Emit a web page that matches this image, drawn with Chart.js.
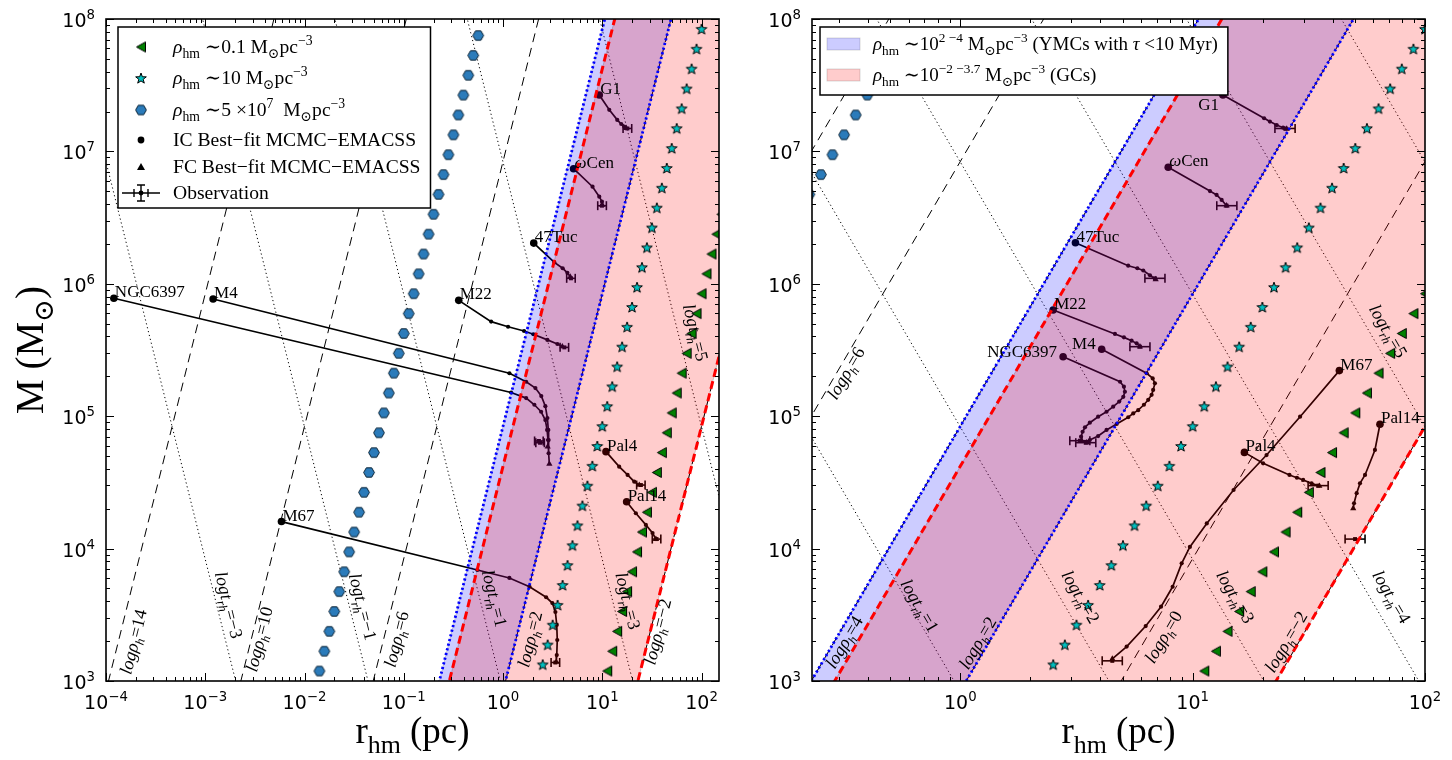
<!DOCTYPE html>
<html lang="en">
<head>
<meta charset="UTF-8">
<title>Cluster mass vs half-mass radius</title>
<script src="https://cdn.jsdelivr.net/npm/chart.js"></script>
<style>
  body { margin: 0; background: #fff; }
  #wrap { position: relative; width: 1452px; height: 760px; }
  canvas { position: absolute; top: 0; }
  #left { left: 0; }
  #right { left: 726px; }
</style>
</head>
<body>
<div id="wrap">
  <canvas id="left" width="726" height="760"></canvas>
  <canvas id="right" width="726" height="760"></canvas>
</div>
<script>
// ---- constant-density model sequences (r in pc, M in Msun) ----
const hexR = [0.01413,0.01585,0.01778,0.01995,0.02239,0.02512,0.02818,0.03162,0.03548,0.03981,0.04467,0.05012,0.05623,0.0631,0.07079,0.07943,0.08913,0.1,0.1122,0.1259,0.1413,0.1585,0.1778,0.1995,0.2239,0.2512,0.2818,0.3162,0.3548,0.3981,0.4467,0.5012,0.5623];
const hexM = [1189,1679,2371,3350,4732,6683,9441,13335,18836,26607,37584,53088,74989,1.059e5,1.496e5,2.113e5,2.985e5,4.217e5,5.957e5,8.414e5,1.189e6,1.679e6,2.371e6,3.35e6,4.732e6,6.683e6,9.441e6,1.334e7,1.884e7,2.661e7,3.758e7,5.309e7,7.499e7];
const starR = [2.512,2.818,3.162,3.548,3.981,4.467,5.012,5.623,6.31,7.079,7.943,8.913,10,11.22,12.59,14.13,15.85,17.78,19.95,22.39,25.12,28.18,31.62,35.48,39.81,44.67,50.12,56.23,63.1,70.79,79.43,89.13,100];
const starM = [1334,1884,2661,3758,5309,7499,10593,14962,21135,29854,42170,59566,84140,1.189e5,1.679e5,2.371e5,3.35e5,4.732e5,6.683e5,9.441e5,1.334e6,1.884e6,2.661e6,3.758e6,5.309e6,7.499e6,1.059e7,1.496e7,2.113e7,2.985e7,4.217e7,5.957e7,8.414e7];
const triR = [11.22,12.59,14.13,15.85,17.78,19.95,22.39,25.12,28.18,31.62,35.48,39.81,44.67,50.12,56.23,63.1,70.79,79.43,89.13,100,112.2,125.9,141.3,158.5];
const triM = [1189,1679,2371,3350,4732,6683,9441,13335,18836,26607,37584,53088,74989,1.059e5,1.496e5,2.113e5,2.985e5,4.217e5,5.957e5,8.414e5,1.189e6,1.679e6,2.371e6,3.35e6];

// ---- reference lines: r at M = refM[0] and refM[1] ----
const refM = [1e2, 1e9];
const rhoEnds = { '14': [4.92e-5, 0.0106], '10': [1.06e-3, 0.2285], '8': [4.92e-3, 1.061], '6': [0.02285, 4.92],
  '4': [0.106, 22.85], '3.7': [0.1337, 28.77], '2': [0.492, 106.1], '0': [2.285, 492], '-2': [10.61, 2285] };
const tEnds = { '-3': [4.36e-3, 2.03e-5], '-1': [0.094, 4.36e-4], '1': [2.026, 9.4e-3], '2': [9.4, 0.0436],
  '3': [43.6, 0.2026], '4': [202.6, 0.9404], '5': [940.4, 4.365], '6': [4365, 20.26] };

const clusterNames = ['G1', 'ωCen', '47Tuc', 'M22', 'NGC6397', 'M4', 'M67', 'Pal4', 'Pal14'];

// ---- left panel: evolution tracks [r, M] and observations [r, rLow, rHigh, M] ----
const tracksL = [
  [[9.33,2.67e7],[11.76,2.06e7],[14.16,1.73e7],[15.53,1.61e7],[16.63,1.54e7],[17.42,1.5e7]],
  [[5.14,7.4e6],[7.98,5.41e6],[9.33,4.55e6],[9.93,4.17e6],[10.0,3.94e6]],
  [[2.04,2.03e6],[3.29,1.45e6],[3.99,1.31e6],[4.45,1.21e6],[4.76,1.13e6]],
  [[0.358,7.5e5],[0.759,5.18e5],[1.125,4.74e5],[1.63,4.4e5],[2.02,4.16e5],[2.8,3.77e5],[3.53,3.51e5],[3.96,3.36e5]],
  [[1.2e-4,7.78e5],[1.206,1.51e5],[1.71,1.37e5],[2.07,1.22e5],[2.42,1.08e5],[2.67,9.35e4],[2.78,7.87e4],[2.84,6.61e4],[2.88,5.25e4],[2.93,4.36e4]],
  [[1.2e-3,7.68e5],[1.16,2.11e5],[1.71,1.82e5],[2.12,1.63e5],[2.43,1.42e5],[2.67,1.19e5],[2.8,9.69e4],[2.86,7.87e4],[2.88,6.61e4],[2.82,5.89e4]],
  [[5.86e-3,1.6e4],[0.552,6.89e3],[1.16,6.0e3],[1.85,5.15e3],[2.72,4.29e3],[3.14,3.88e3],[3.37,3.32e3],[3.48,2.65e3],[3.52,2.04e3],[3.48,1.57e3],[3.44,1.39e3]],
  [[10.9,5.4e4],[14.8,4.16e4],[18.0,3.6e4],[21.0,3.2e4],[23.6,3.02e4]],
  [[17.6,2.26e4],[21.8,1.85e4],[27.5,1.51e4],[32.1,1.31e4],[34.7,1.18e4]]
];
const obsL = [
  [17.9,16.2,19.8,1.49e7],[9.93,9.0,11.0,3.89e6],[4.84,4.38,5.34,1.1e6],[4.15,3.76,4.58,3.31e5],
  [2.30,2.08,2.54,6.5e4],[2.36,2.14,2.61,6.3e4],[3.37,3.05,3.72,1.38e3],[24.5,22.2,27.0,3.02e4],[35.2,31.9,38.9,1.18e4]
];

// ---- right panel ----
const tracksR = [
  [[13.5,2.67e7],[20.3,1.78e7],[21.5,1.68e7],[23.0,1.58e7],[24.5,1.51e7],[25.4,1.48e7]],
  [[7.85,7.59e6],[11.87,5.02e6],[12.68,4.69e6],[13.33,4.3e6],[14.0,3.89e6]],
  [[3.13,2.04e6],[5.28,1.37e6],[5.78,1.31e6],[6.13,1.26e6],[6.55,1.16e6],[6.93,1.08e6]],
  [[2.51,6.34e5],[4.63,4.18e5],[5.06,3.94e5],[5.46,3.72e5],[5.74,3.55e5],[5.93,3.35e5]],
  [[2.77,2.81e5],[4.87,1.82e5],[5.06,1.67e5],[5.11,1.53e5],[5.03,1.4e5],[4.83,1.29e5],[4.55,1.18e5],[4.26,1.08e5],[3.92,9.91e4],[3.61,8.93e4],[3.44,8.24e4],[3.36,7.63e4],[3.31,7.0e4],[3.33,6.53e4]],
  [[4.06,3.2e5],[6.34,2.11e5],[6.73,1.93e5],[6.88,1.77e5],[6.76,1.58e5],[6.66,1.45e5],[6.44,1.33e5],[6.17,1.22e5],[5.83,1.11e5],[5.55,1.05e5],[5.28,9.82e4],[4.71,8.73e4],[4.26,7.87e4],[3.92,7.08e4],[3.61,6.61e4],[3.5,6.31e4]],
  [[42.8,2.21e5],[29.0,9.91e4],[20.8,5.09e4],[15.0,2.77e4],[11.5,1.55e4],[9.73,1.03e4],[8.97,7.74e3],[8.2,5.15e3],[7.31,3.64e3],[6.28,2.6e3],[5.2,1.82e3],[4.51,1.47e3]],
  [[16.7,5.33e4],[20.1,4.41e4],[26.1,3.6e4],[28.1,3.43e4],[29.9,3.3e4],[32.5,3.11e4],[35.1,2.97e4]],
  [[64.0,8.69e4],[60.9,5.56e4],[55.2,3.6e4],[52.5,3.11e4],[50.8,2.62e4],[49.5,2.2e4],[49.1,2.01e4]]
];
const obsR = [
  [25.0,22.6,27.6,1.49e7],[14.0,12.7,15.5,3.89e6],[6.88,6.23,7.6,1.1e6],[5.93,5.37,6.55,3.35e5],
  [3.27,2.96,3.61,6.53e4],[3.47,3.14,3.83,6.31e4],[4.51,4.08,4.98,1.42e3],[34.7,31.4,38.3,2.99e4],[50.0,45.3,55.2,1.18e4]
];

// line labels: [kind, level, r, M] (text centre)
const lineLabelsL = [['rho','14',1.88e-4,1.98e3],['t','-3',1.73e-3,3.75e3],['rho','10',3.48e-3,2.07e3],['t','-1',0.0388,3.64e3],
  ['rho','6',0.0841,2.07e3],['t','1',0.825,4.22e3],['rho','2',1.86,2.07e3],['t','3',18.2,4.04e3],['rho','-2',35.9,2.36e3],['t','5',87.3,4.29e5]];
const lineLabelsR = [['rho','6',0.321,2.12e5],['rho','4',0.316,1.97e3],['t','1',0.67,3.71e3],['rho','2',1.185,1.94e3],['t','2',3.3,4.33e3],
  ['rho','0',7.47,2.16e3],['t','3',15.3,4.33e3],['rho','-2',25.2,1.98e3],['t','4',71.9,4.33e3],['t','5',69.5,4.41e5]];

const SERIF = "'Liberation Serif', 'DejaVu Serif', serif";
const SANS = "'DejaVu Sans', sans-serif";

// ---- marker sprites ----
function sprite(w, h, draw) {
  const c = document.createElement('canvas');
  c.width = w; c.height = h;
  draw(c.getContext('2d'));
  return c;
}
const hexImg = sprite(14, 13, g => {
  g.beginPath();
  for (let i = 0; i < 6; i++) {
    const a = i * Math.PI / 3;
    g.lineTo(7 + 5.4 * Math.cos(a), 6.5 + 5.4 * Math.sin(a));
  }
  g.closePath();
  g.fillStyle = '#2b7bba'; g.fill();
  g.lineWidth = 1; g.strokeStyle = '#0b2233'; g.stroke();
});
const starImg = sprite(14, 14, g => {
  g.beginPath();
  for (let i = 0; i < 10; i++) {
    const a = -Math.PI / 2 + i * Math.PI / 5, r = i % 2 ? 2.3 : 5.6;
    g.lineTo(7 + r * Math.cos(a), 7.6 + r * Math.sin(a));
  }
  g.closePath();
  g.fillStyle = '#00bfbf'; g.fill();
  g.lineWidth = 1; g.strokeStyle = '#000'; g.stroke();
});
const triImg = sprite(12, 13, g => {
  g.beginPath();
  g.moveTo(1.5, 6.5); g.lineTo(10.5, 1.5); g.lineTo(10.5, 11.5); g.closePath();
  g.fillStyle = '#008000'; g.fill();
  g.lineWidth = 1; g.strokeStyle = '#000'; g.stroke();
});

// ---- rich text (sub/superscripts) ----
function richFont(st, size, fam) {
  const s = (st.includes('b') || st.includes('p')) ? size * 0.7 : size;
  return (st.includes('i') ? 'italic ' : '') + s.toFixed(1) + 'px ' + fam;
}
function drawRich(ctx, segs, x, y, size, fam, align) {
  let w = 0;
  for (const [t, st] of segs) { ctx.font = richFont(st, size, fam); w += ctx.measureText(t).width; }
  let cx = align === 'center' ? x - w / 2 : align === 'right' ? x - w : x;
  ctx.textAlign = 'left';
  ctx.textBaseline = 'alphabetic';
  for (const [t, st] of segs) {
    ctx.font = richFont(st, size, fam);
    const dy = st.includes('b') ? size * 0.26 : st.includes('p') ? -size * 0.42 : 0;
    ctx.fillText(t, cx, y + dy);
    cx += ctx.measureText(t).width;
  }
  return w;
}
const minus = s => s.replace('-', '−');

// ---- datasets ----
const pts = (xs, ys) => xs.map((x, i) => ({x, y: ys[i]}));
function refLine(ends, color, width, dash, order) {
  return { data: [{x: ends[0], y: refM[0]}, {x: ends[1], y: refM[1]}], borderColor: color, borderWidth: width,
    borderDash: dash, pointRadius: 0, fill: false, order };
}
function band(upper, lower, color) {
  const u = rhoEnds[upper], l = rhoEnds[lower];
  return { data: [{x: u[0], y: refM[0]}, {x: u[1], y: refM[1]}, {x: l[1], y: refM[1]}, {x: l[0], y: refM[0]}, {x: u[0], y: refM[0]}],
    fill: 'shape', backgroundColor: color, borderColor: 'rgba(0,0,0,0.18)', borderWidth: 1, pointRadius: 0, order: 3 };
}
function markerSet(xs, ys, img) {
  return { data: pts(xs, ys), showLine: false, pointStyle: img, pointRadius: 6, order: 2 };
}
function trackSet(tr) {
  const n = tr.length;
  return { data: tr.map(p => ({x: p[0], y: p[1]})), borderColor: '#000', borderWidth: 1.7,
    pointBackgroundColor: '#000', pointBorderColor: '#000', pointBorderWidth: 0,
    pointStyle: c => c.dataIndex === n - 1 ? 'triangle' : 'circle',
    pointRadius: c => c.dataIndex === 0 ? 3.8 : (c.dataIndex === n - 1 ? 3.6 : 2.1), order: 4 };
}
function obsSets(o) {
  return [
    { data: [{x: o[1], y: o[3]}, {x: o[2], y: o[3]}], borderColor: '#000', borderWidth: 1.6,
      pointStyle: 'line', pointRotation: 90, pointRadius: 4.5, pointBorderColor: '#000', pointBorderWidth: 1.6, order: 4 },
    { data: [{x: o[0], y: o[3]}], showLine: false, pointStyle: 'rect', pointRadius: 2.8,
      pointBackgroundColor: '#000', pointBorderWidth: 0, order: 4 }
  ];
}

const panels = {
  left: { xmin: 1e-4, xmax: 150, yw: 106, padRight: 6, xExp: [-4, -3, -2, -1, 0, 1, 2],
    rho: ['14', '10', '6', '2', '-2'], t: ['-3', '-1', '1', '3', '5'],
    tracks: tracksL, obs: obsL, lineLabels: lineLabelsL, labelSide: {}, legend: 'markers', yTitle: true },
  right: { xmin: 0.23, xmax: 100, yw: 86, padRight: 27, xExp: [0, 1, 2],
    rho: ['8', '6', '4', '2', '0', '-2'], t: ['1', '2', '3', '4', '5', '6'],
    tracks: tracksR, obs: obsR, lineLabels: lineLabelsR, labelSide: {'G1': 'below', 'NGC6397': 'left', 'M4': 'left'},
    legend: 'bands', yTitle: false }
};

function buildDatasets(P) {
  const ds = [];
  P.rho.forEach(k => ds.push(refLine(rhoEnds[k], '#000', 1, [9, 6], 5)));
  P.t.forEach(k => ds.push(refLine(tEnds[k], '#000', 1, [1.2, 2.8], 5)));
  P.tracks.forEach(tr => ds.push(trackSet(tr)));
  P.obs.forEach(o => ds.push(...obsSets(o)));
  ds.push(band('3.7', '-2', 'rgba(255,0,0,0.2)'));
  ds.push(band('4', '2', 'rgba(0,0,255,0.2)'));
  ds.push(markerSet(hexR, hexM, hexImg));
  ds.push(markerSet(starR, starM, starImg));
  ds.push(markerSet(triR, triM, triImg));
  ds.push(refLine(rhoEnds['4'], '#0000ff', 2.8, [2.2, 2.6], 1));
  ds.push(refLine(rhoEnds['2'], '#0000ff', 2.8, [2.2, 2.6], 1));
  ds.push(refLine(rhoEnds['3.7'], '#ff0000', 3, [8, 4.5], 1));
  ds.push(refLine(rhoEnds['-2'], '#ff0000', 3, [8, 4.5], 1));
  return ds;
}

// ---- axes, ticks, labels and legends ----
function drawLegend(ctx, a, P) {
  ctx.save();
  if (P.legend === 'markers') {
    const rows = [
      [triImg, [['ρ','i'],['hm','b'],[' ∼0.1 M',''],['⊙','b'],['pc',''],['−3','p']]],
      [starImg, [['ρ','i'],['hm','b'],[' ∼10 M',''],['⊙','b'],['pc',''],['−3','p']]],
      [hexImg, [['ρ','i'],['hm','b'],[' ∼5 ×10',''],['7','p'],['  M',''],['⊙','b'],['pc',''],['−3','p']]],
      ['ic', [['IC Best−fit MCMC−EMACSS','']]],
      ['fc', [['FC Best−fit MCMC−EMACSS','']]],
      ['obs', [['Observation','']]]
    ];
    const ys = [28, 59, 91, 121, 148, 174];
    const bx = a.left + 12, by = a.top + 8, mx = a.left + 35, tx = a.left + 67;
    let wmax = 0;
    ctx.fillStyle = 'rgba(0,0,0,0)';
    rows.forEach(r => { wmax = Math.max(wmax, drawRich(ctx, r[1], -9999, -9999, 19.6, SERIF, 'left')); });
    ctx.fillStyle = '#fff';
    ctx.fillRect(bx, by, tx + wmax + 10 - bx, 181);
    ctx.strokeStyle = '#000'; ctx.lineWidth = 1.5;
    ctx.strokeRect(bx, by, tx + wmax + 10 - bx, 181);
    rows.forEach((r, i) => {
      const cy = a.top + ys[i];
      const m = r[0];
      ctx.fillStyle = '#000'; ctx.strokeStyle = '#000'; ctx.lineWidth = 1.4;
      if (m === 'ic') { ctx.beginPath(); ctx.arc(mx, cy, 3.4, 0, Math.PI * 2); ctx.fill(); }
      else if (m === 'fc') { ctx.beginPath(); ctx.moveTo(mx, cy - 4); ctx.lineTo(mx + 4, cy + 3); ctx.lineTo(mx - 4, cy + 3); ctx.closePath(); ctx.fill(); }
      else if (m === 'obs') {
        ctx.beginPath();
        ctx.moveTo(mx - 19, cy); ctx.lineTo(mx + 19, cy);
        ctx.moveTo(mx - 7, cy - 4); ctx.lineTo(mx - 7, cy + 4);
        ctx.moveTo(mx + 7, cy - 4); ctx.lineTo(mx + 7, cy + 4);
        ctx.moveTo(mx, cy - 8); ctx.lineTo(mx, cy + 8);
        ctx.moveTo(mx - 4, cy - 8); ctx.lineTo(mx + 4, cy - 8);
        ctx.moveTo(mx - 4, cy + 8); ctx.lineTo(mx + 4, cy + 8);
        ctx.stroke();
        ctx.beginPath(); ctx.arc(mx, cy, 2.4, 0, Math.PI * 2); ctx.fill();
      } else ctx.drawImage(m, mx - m.width / 2, cy - m.height / 2);
      ctx.fillStyle = '#000';
      drawRich(ctx, r[1], tx, cy + 6, 19.6, SERIF, 'left');
    });
  } else {
    const rows = [
      ['rgba(0,0,255,0.2)', [['ρ','i'],['hm','b'],[' ∼10',''],['2 −4','p'],[' M',''],['⊙','b'],['pc',''],['−3','p'],[' (YMCs with ',''],['τ','i'],[' <10 Myr)','']]],
      ['rgba(255,0,0,0.2)', [['ρ','i'],['hm','b'],[' ∼10',''],['−2 −3.7','p'],[' M',''],['⊙','b'],['pc',''],['−3','p'],[' (GCs)','']]]
    ];
    const ys = [25, 56];
    const bx = a.left + 8, by = a.top + 8, tx = a.left + 61;
    let wmax = 0;
    ctx.fillStyle = 'rgba(0,0,0,0)';
    rows.forEach(r => { wmax = Math.max(wmax, drawRich(ctx, r[1], -9999, -9999, 19, SERIF, 'left')); });
    ctx.fillStyle = '#fff';
    ctx.fillRect(bx, by, tx + wmax + 10 - bx, 68);
    ctx.strokeStyle = '#000'; ctx.lineWidth = 1.5;
    ctx.strokeRect(bx, by, tx + wmax + 10 - bx, 68);
    rows.forEach((r, i) => {
      const cy = a.top + ys[i];
      ctx.fillStyle = r[0];
      ctx.fillRect(a.left + 15, cy - 6, 33, 12);
      ctx.strokeStyle = 'rgba(0,0,0,0.15)'; ctx.lineWidth = 1;
      ctx.strokeRect(a.left + 15, cy - 6, 33, 12);
      ctx.fillStyle = '#000';
      drawRich(ctx, r[1], tx, cy + 6, 19, SERIF, 'left');
    });
  }
  ctx.restore();
}

const decor = {
  id: 'decor',
  afterDraw(chart) {
    const P = panels[chart.canvas.id];
    const {ctx, chartArea: a, scales: {x, y}} = chart;
    ctx.save();
    ctx.strokeStyle = '#000';
    ctx.lineWidth = 1;
    const seg = (x1, y1, x2, y2) => { ctx.beginPath(); ctx.moveTo(x1, y1); ctx.lineTo(x2, y2); ctx.stroke(); };
    for (let e = -5; e <= 8; e++) {
      for (let k = 1; k <= 9; k++) {
        const v = k * Math.pow(10, e);
        const len = k === 1 ? 8 : 4;
        if (v >= x.min * 0.9999 && v <= x.max * 1.0001) {
          const px = Math.round(x.getPixelForValue(v)) + 0.5;
          seg(px, a.bottom, px, a.bottom - len); seg(px, a.top, px, a.top + len);
        }
        if (v >= y.min * 0.9999 && v <= y.max * 1.0001) {
          const py = Math.round(y.getPixelForValue(v)) + 0.5;
          seg(a.left, py, a.left + len, py); seg(a.right, py, a.right - len, py);
        }
      }
    }
    ctx.lineWidth = 1.6;
    ctx.strokeRect(a.left, a.top, a.right - a.left, a.bottom - a.top);

    // tick labels
    ctx.fillStyle = '#000';
    P.xExp.forEach(e => drawRich(ctx, [['10', ''], [minus(String(e)), 'p']], x.getPixelForValue(Math.pow(10, e)), a.bottom + 28, 19, SANS, 'center'));
    for (let e = 3; e <= 8; e++) drawRich(ctx, [['10', ''], [String(e), 'p']], a.left - 11, y.getPixelForValue(Math.pow(10, e)) + 8, 19, SANS, 'right');

    // axis titles
    drawRich(ctx, [['r', ''], ['hm', 'b'], [' (pc)', '']], (a.left + a.right) / 2, a.bottom + 62, 37, SERIF, 'center');
    if (P.yTitle) {
      ctx.save();
      ctx.translate(30, (a.top + a.bottom) / 2);
      ctx.rotate(-Math.PI / 2);
      drawRich(ctx, [['M (M', ''], ['⊙', 'b'], [')', '']], 0, 13, 39, SERIF, 'center');
      ctx.restore();
    }

    // labels along the reference lines
    ctx.save();
    ctx.beginPath(); ctx.rect(a.left, a.top, a.right - a.left, a.bottom - a.top); ctx.clip();
    const p0x = x.getPixelForValue(1), p0y = y.getPixelForValue(1e3);
    const angRho = Math.atan2(y.getPixelForValue(1e6) - p0y, x.getPixelForValue(10) - p0x);
    const angT = Math.atan2(y.getPixelForValue(1) - p0y, x.getPixelForValue(10) - p0x);
    P.lineLabels.forEach(([kind, lev, r, m]) => {
      ctx.save();
      ctx.translate(x.getPixelForValue(r), y.getPixelForValue(m));
      ctx.rotate(kind === 'rho' ? angRho : angT);
      const segs = kind === 'rho'
        ? [['log', 'i'], ['ρ', 'i'], ['h', 'ib'], ['=', ''], [minus(lev), '']]
        : [['log', 'i'], ['t', 'i'], ['rh', 'ib'], ['=', ''], [minus(lev), '']];
      drawRich(ctx, segs, 0, 6, 18, SERIF, 'center');
      ctx.restore();
    });
    ctx.restore();

    // cluster names at the initial conditions
    P.tracks.forEach((tr, i) => {
      const px = x.getPixelForValue(tr[0][0]), py = y.getPixelForValue(tr[0][1]);
      const name = clusterNames[i];
      const segs = name === 'ωCen' ? [['ω', 'i'], ['Cen', '']] : [[name, '']];
      const side = P.labelSide[name];
      if (side === 'left') drawRich(ctx, segs, px - 6, py, 17, SERIF, 'right');
      else if (side === 'below') drawRich(ctx, segs, px - 4, py + 15, 17, SERIF, 'right');
      else drawRich(ctx, segs, px + 1, py - 1, 17, SERIF, 'left');
    });

    drawLegend(ctx, a, P);
    ctx.restore();
  }
};

Chart.defaults.font.family = SERIF;
function makePanel(id) {
  const P = panels[id];
  return new Chart(document.getElementById(id), {
    type: 'line',
    data: { datasets: buildDatasets(P) },
    options: {
      responsive: false,
      animation: false,
      events: [],
      layout: { padding: { top: 19, right: P.padRight, left: 0, bottom: 0 } },
      elements: { point: { radius: 0 }, line: { tension: 0 } },
      plugins: { legend: { display: false }, tooltip: { enabled: false } },
      scales: {
        x: { type: 'logarithmic', min: P.xmin, max: P.xmax, ticks: { display: false }, grid: { display: false },
          border: { display: false }, afterFit: s => { s.height = 79; } },
        y: { type: 'logarithmic', min: 1e3, max: 1e8, ticks: { display: false }, grid: { display: false },
          border: { display: false }, afterFit: s => { s.width = P.yw; } }
      }
    },
    plugins: [decor]
  });
}
makePanel('left');
makePanel('right');
</script>
</body>
</html>
